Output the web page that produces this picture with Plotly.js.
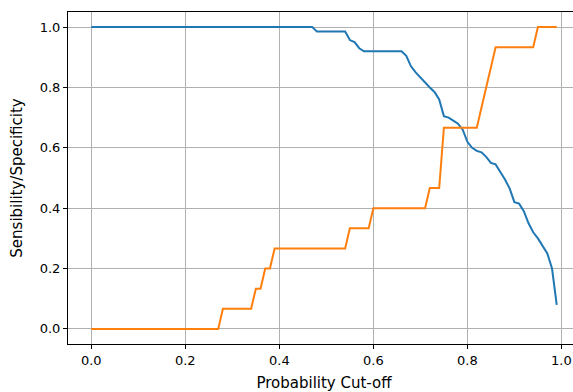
<!DOCTYPE html>
<html>
<head>
<meta charset="utf-8">
<script src="https://cdn.plot.ly/plotly-3.0.1.min.js"></script>
<style>
html,body{margin:0;padding:0;overflow:hidden;background:#fff;width:573px;height:392px;}
#chart{width:580px;height:392px;}
</style>
</head>
<body>
<div id="chart"></div>
<script>
var cutoffs = [0.00,0.01,0.02,0.03,0.04,0.05,0.06,0.07,0.08,0.09,
0.10,0.11,0.12,0.13,0.14,0.15,0.16,0.17,0.18,0.19,
0.20,0.21,0.22,0.23,0.24,0.25,0.26,0.27,0.28,0.29,
0.30,0.31,0.32,0.33,0.34,0.35,0.36,0.37,0.38,0.39,
0.40,0.41,0.42,0.43,0.44,0.45,0.46,0.47,0.48,0.49,
0.50,0.51,0.52,0.53,0.54,0.55,0.56,0.57,0.58,0.59,
0.60,0.61,0.62,0.63,0.64,0.65,0.66,0.67,0.68,0.69,
0.70,0.71,0.72,0.73,0.74,0.75,0.76,0.77,0.78,0.79,
0.80,0.81,0.82,0.83,0.84,0.85,0.86,0.87,0.88,0.89,
0.90,0.91,0.92,0.93,0.94,0.95,0.96,0.97,0.98,0.99];

var specificity = [1,1,1,1,1,1,1,1,1,1,
1,1,1,1,1,1,1,1,1,1,
1,1,1,1,1,1,1,1,1,1,
1,1,1,1,1,1,1,1,1,1,
1,1,1,1,1,1,1,1,0.985,0.985,
0.985,0.985,0.985,0.985,0.985,0.957,0.95,0.93,0.92,0.92,
0.92,0.92,0.92,0.92,0.92,0.92,0.92,0.905,0.87,0.85,
0.833,0.815,0.80,0.785,0.76,0.705,0.70,0.69,0.68,0.66,
0.62,0.60,0.59,0.585,0.57,0.55,0.545,0.52,0.495,0.465,
0.42,0.415,0.39,0.35,0.32,0.30,0.275,0.25,0.20,0.08];

var sensitivity = [0,0,0,0,0,0,0,0,0,0,
0,0,0,0,0,0,0,0,0,0,
0,0,0,0,0,0,0,0,0.0667,0.0667,
0.0667,0.0667,0.0667,0.0667,0.0667,0.1333,0.1333,0.2,0.2,0.2667,
0.2667,0.2667,0.2667,0.2667,0.2667,0.2667,0.2667,0.2667,0.2667,0.2667,
0.2667,0.2667,0.2667,0.2667,0.2667,0.3333,0.3333,0.3333,0.3333,0.3333,
0.4,0.4,0.4,0.4,0.4,0.4,0.4,0.4,0.4,0.4,
0.4,0.4,0.4667,0.4667,0.4667,0.6667,0.6667,0.6667,0.6667,0.6667,
0.6667,0.6667,0.6667,0.7333,0.8,0.8667,0.9333,0.9333,0.9333,0.9333,
0.9333,0.9333,0.9333,0.9333,0.9333,1,1,1,1,1];

var tickVals = [0.0,0.2,0.4,0.6,0.8,1.0];
var tickText = ["0.0","0.2","0.4","0.6","0.8","1.0"];

var tickFont = {family: "DejaVu Sans", size: 13, color: "#000"};
var titleFont = {family: "DejaVu Sans", size: 15, color: "#000"};

var traces = [
  {x: cutoffs, y: specificity, type: "scatter", mode: "lines", name: "Specificity",
   line: {color: "#1f77b4", width: 2}},
  {x: cutoffs, y: sensitivity, type: "scatter", mode: "lines", name: "Sensitivity",
   line: {color: "#ff7f0e", width: 2}}
];

var axisCommon = {
  showline: true, linecolor: "#000", linewidth: 1, mirror: true,
  ticks: "outside", ticklen: 4, tickcolor: "#000", tickwidth: 1,
  showgrid: true, gridcolor: "#b0b0b0", gridwidth: 1,
  zeroline: false, tickfont: tickFont,
  tickvals: tickVals, ticktext: tickText
};

var layout = {
  width: 580, height: 392,
  margin: {l: 68, r: 0, t: 12, b: 48},
  paper_bgcolor: "#fff", plot_bgcolor: "#fff",
  showlegend: false,
  font: tickFont,
  xaxis: Object.assign({}, axisCommon, {
    range: [-0.0495, 1.0395],
    title: {text: "Probability Cut-off", font: titleFont, standoff: 10}
  }),
  yaxis: Object.assign({}, axisCommon, {
    range: [-0.05, 1.05],
    title: {text: "Sensibility/Specificity", font: titleFont, standoff: 13}
  })
};

Plotly.newPlot("chart", traces, layout, {displayModeBar: false, staticPlot: true});
</script>
</body>
</html>
